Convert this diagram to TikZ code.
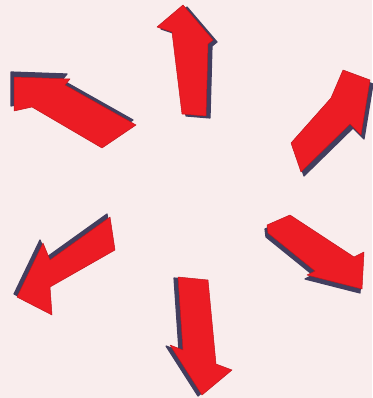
\documentclass[tikz,border=0pt]{standalone}
\begin{document}
\begin{tikzpicture}[x=1pt,y=-1pt]
\definecolor{bgpink}{RGB}{249,237,237}
\definecolor{arrowred}{RGB}{236,28,36}
\definecolor{shade}{RGB}{66,62,94}
\tikzset{
  arrowbody/.style={fill=arrowred, draw=arrowred!80!black, line width=0.5pt, line join=round},
  arrowshade/.style={fill=shade, draw=shade, line width=1.2pt, line join=round},
  arrTop/.style={insert path={(183,5) -- (213,40) -- (208,44) -- (206,116) -- (182,114) -- (172,32) -- (157,27) -- cycle}},
  arrLeft/.style={insert path={(14,77) -- (70,79) -- (65,85) -- (136,125) -- (102,148) -- (32,107) -- (14,111) -- cycle}},
  arrUR/.style={insert path={(370,80) -- (361,135) -- (350,124) -- (301,172) -- (291,143) -- (331,98) -- (343,70) -- cycle}},
  arrLL/.style={insert path={(110,217) -- (115,250) -- (50,287) -- (52,315) -- (17,297) -- (43,243) -- (50,260) -- cycle}},
  arrLR/.style={insert path={(267,225) -- (290,215) -- (354,257) -- (364,252) -- (362,289) -- (307,275) -- (315,271) -- (268,233) -- cycle}},
  arrBot/.style={insert path={(178,277) -- (208,280) -- (216,364) -- (232,370) -- (202,395) -- (170,345) -- (183,350) -- cycle}},
}
\fill[bgpink] (0,0) rectangle (372,398);
\useasboundingbox (0,0) rectangle (372,398);
% shadows
\path[arrowshade, shift={(4,2)}, arrTop];
\path[arrowshade, shift={(-3,-5)}, arrLeft];
\path[arrowshade, shift={(3,4)}, arrUR];
\path[arrowshade, shift={(-3,-3)}, arrLL];
\path[arrowshade, shift={(-2,4)}, arrLR];
\path[arrowshade, shift={(-4,1)}, arrBot];
% arrows
\path[arrowbody, arrTop];
\path[arrowbody, arrLeft];
\path[arrowbody, arrUR];
\path[arrowbody, arrLL];
\path[arrowbody, arrLR];
\path[arrowbody, arrBot];
\end{tikzpicture}
\end{document}
